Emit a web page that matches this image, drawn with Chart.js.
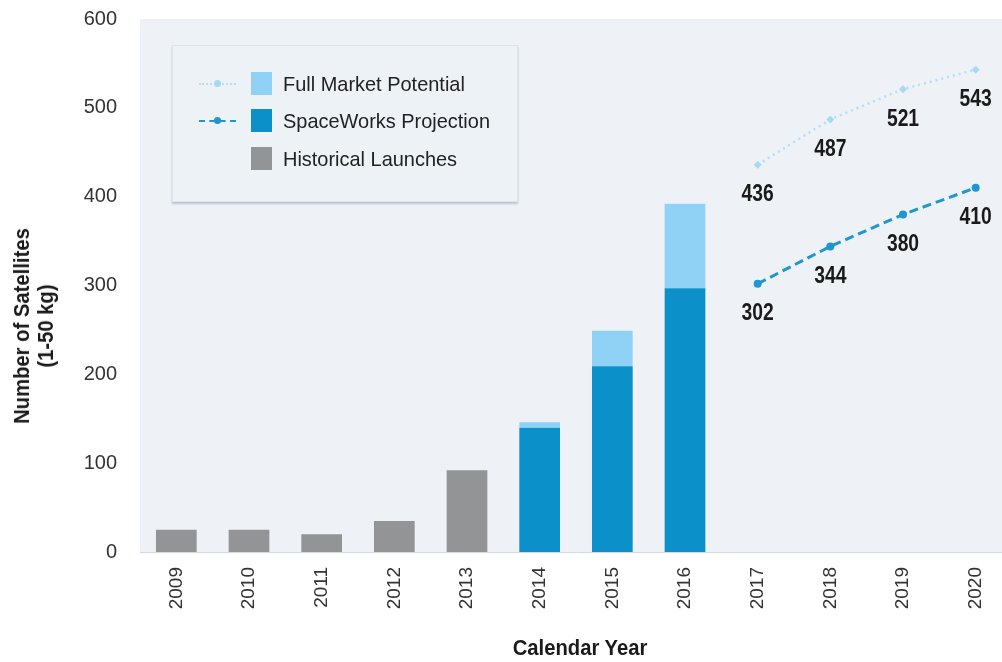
<!DOCTYPE html>
<html>
<head>
<meta charset="utf-8">
<script src="https://cdn.jsdelivr.net/npm/chart.js@4.4.1/dist/chart.umd.min.js"></script>
<style>
  html, body { margin: 0; padding: 0; background: #fff; overflow: hidden; }
  #wrap { position: relative; width: 1016px; height: 662px; }
  #legendBox {
    position: absolute; left: 172px; top: 45px; width: 344px; height: 155px;
    background: #edf2f7; border: 1px solid #dde4ec;
    box-shadow: 0 2px 2px rgba(90, 110, 130, 0.35);
    font-family: "Liberation Sans", Arial, sans-serif;
    font-size: 21px; color: #222;
  }
  .row { position: absolute; left: 0; height: 24px; }
  .row .ln { position: absolute; left: 26px; top: 11px; width: 37px; height: 0; }
  .row .dot { position: absolute; left: 41px; top: 8px; width: 7px; height: 7px; border-radius: 50%; }
  .row .sq { position: absolute; left: 78px; top: 0; width: 21px; height: 23px; }
  .row .tx { position: absolute; left: 110px; top: 0; white-space: nowrap; line-height: 24px;
             transform: scaleX(0.95); transform-origin: left center; }
  .titulo { position: absolute; white-space: nowrap; font-family: "Liberation Sans", Arial, sans-serif;
            font-weight: bold; font-size: 22px; color: #1a1a1a; line-height: 24px; text-align: center; }
  #tituloX { left: 580px; top: 636px; transform: translate(-50%, 0) scaleX(0.92); }
  #tituloY { left: 34px; top: 326px; transform: translate(-50%, -50%) rotate(-90deg) scaleX(0.92); }
</style>
</head>
<body>
<div id="wrap">
  <canvas id="myChart" width="1016" height="662"></canvas>
  <div id="legendBox">
    <div class="row" style="top:26px">
      <span class="ln" style="border-top:2px dotted #b5def4"></span>
      <span class="dot" style="background:#a8d9f3"></span>
      <span class="sq" style="background:#8fd2f6"></span>
      <span class="tx">Full Market Potential</span>
    </div>
    <div class="row" style="top:63px">
      <span class="ln" style="border-top:2px dashed #1e97cf"></span>
      <span class="dot" style="background:#1e97cf"></span>
      <span class="sq" style="background:#0b90c9"></span>
      <span class="tx">SpaceWorks Projection</span>
    </div>
    <div class="row" style="top:101px">
      <span class="sq" style="background:#929496"></span>
      <span class="tx">Historical Launches</span>
    </div>
  </div>
  <div class="titulo" id="tituloX">Calendar Year</div>
  <div class="titulo" id="tituloY">Number of Satellites<br>(1-50 kg)</div>
</div>
<script>
// anos do eixo X
const anos = ["2009", "2010", "2011", "2012", "2013", "2014", "2015", "2016", "2017", "2018", "2019", "2020"];

// lançamentos históricos (2009-2013)
const lancamentosHistoricos = [25, 25, 20, 35, 92, null, null, null, null, null, null, null];
// projeção SpaceWorks: barras 2014-2016, linha 2017-2020
const projecaoBarras = [null, null, null, null, null, 140, 209, 297, null, null, null, null];
const projecaoLinha = [null, null, null, null, null, null, null, null, 302, 344, 380, 410];
// potencial total de mercado
const potencialBarras = [null, null, null, null, null, 146, 249, 392, null, null, null, null];
const potencialLinha = [null, null, null, null, null, null, null, null, 436, 487, 521, 543];

const ticksY = [0, 100, 200, 300, 400, 500, 600];

const fonte = "'Liberation Sans', Arial, sans-serif";

// parte clara da barra vai do topo da projeção até o potencial
const potencialFlutuante = potencialBarras.map((v, i) => v == null ? null : [projecaoBarras[i], v]);

// fundo cinza da área do gráfico
const fundo = {
  id: "fundo",
  beforeDraw(chart) {
    const a = chart.chartArea;
    const ctx = chart.ctx;
    ctx.save();
    ctx.fillStyle = "#eef2f6";
    ctx.fillRect(a.left, a.top, a.right - a.left, a.bottom - a.top);
    ctx.restore();
  }
};

// valores escritos abaixo dos pontos das linhas (fonte condensada)
const rotulos = {
  id: "rotulos",
  afterDatasetsDraw(chart) {
    const ctx = chart.ctx;
    [0, 1].forEach(di => {
      const meta = chart.getDatasetMeta(di);
      const dados = chart.data.datasets[di].data;
      meta.data.forEach((p, i) => {
        if (dados[i] == null) return;
        ctx.save();
        ctx.translate(p.x, p.y + 30);
        ctx.scale(0.84, 1);
        ctx.font = "bold 23px " + fonte;
        ctx.fillStyle = "#1a1a1a";
        ctx.textAlign = "center";
        ctx.textBaseline = "middle";
        ctx.fillText(String(dados[i]), 0, 0);
        ctx.restore();
      });
    });
  }
};

new Chart("myChart", {
  data: {
    labels: anos,
    datasets: [
      {
        type: "line",
        label: "Full Market Potential",
        data: potencialLinha,
        borderColor: "#b3def5",
        borderWidth: 2.5,
        borderDash: [2, 4],
        pointRadius: 4,
        pointStyle: "rectRot",
        pointBackgroundColor: "#a8d9f3",
        pointBorderWidth: 0,
        order: 0
      },
      {
        type: "line",
        label: "SpaceWorks Projection",
        data: projecaoLinha,
        borderColor: "#1e97cf",
        borderWidth: 3,
        borderDash: [9, 5],
        pointRadius: 4,
        pointBackgroundColor: "#1e97cf",
        pointBorderWidth: 0,
        order: 0
      },
      {
        type: "bar",
        label: "Historical Launches",
        data: lancamentosHistoricos,
        backgroundColor: "#929496",
        order: 1
      },
      {
        type: "bar",
        label: "SpaceWorks Projection",
        data: projecaoBarras,
        backgroundColor: "#0b90c9",
        order: 1
      },
      {
        type: "bar",
        label: "Full Market Potential",
        data: potencialFlutuante,
        backgroundColor: "#8fd2f6",
        order: 1
      }
    ]
  },
  options: {
    responsive: false,
    animation: false,
    datasets: { bar: { barPercentage: 0.56, categoryPercentage: 1 } },
    layout: { padding: { top: 19, right: 0, left: 0, bottom: 0 } },
    plugins: { legend: { display: false }, tooltip: { enabled: false } },
    scales: {
      x: {
        stacked: true,
        grid: { display: false, drawTicks: false },
        border: { display: true, color: "#d5d9de", width: 1 },
        ticks: {
          minRotation: 90, maxRotation: 90, padding: 15,
          color: "#333", font: { family: fonte, size: 19 }
        },
        afterFit(scale) { scale.height = 110; }
      },
      y: {
        stacked: false,
        min: 0, max: 600,
        afterBuildTicks(scale) { scale.ticks = ticksY.map(v => ({ value: v })); },
        grid: { display: false, drawTicks: false },
        border: { display: false },
        ticks: {
          padding: 23, color: "#333",
          font: { family: fonte, size: 20 }
        },
        afterFit(scale) {
          scale.width = 140;
          scale.paddingTop = 0;
          scale.paddingBottom = 0;
        }
      }
    }
  },
  plugins: [fundo, rotulos]
});
</script>
</body>
</html>
